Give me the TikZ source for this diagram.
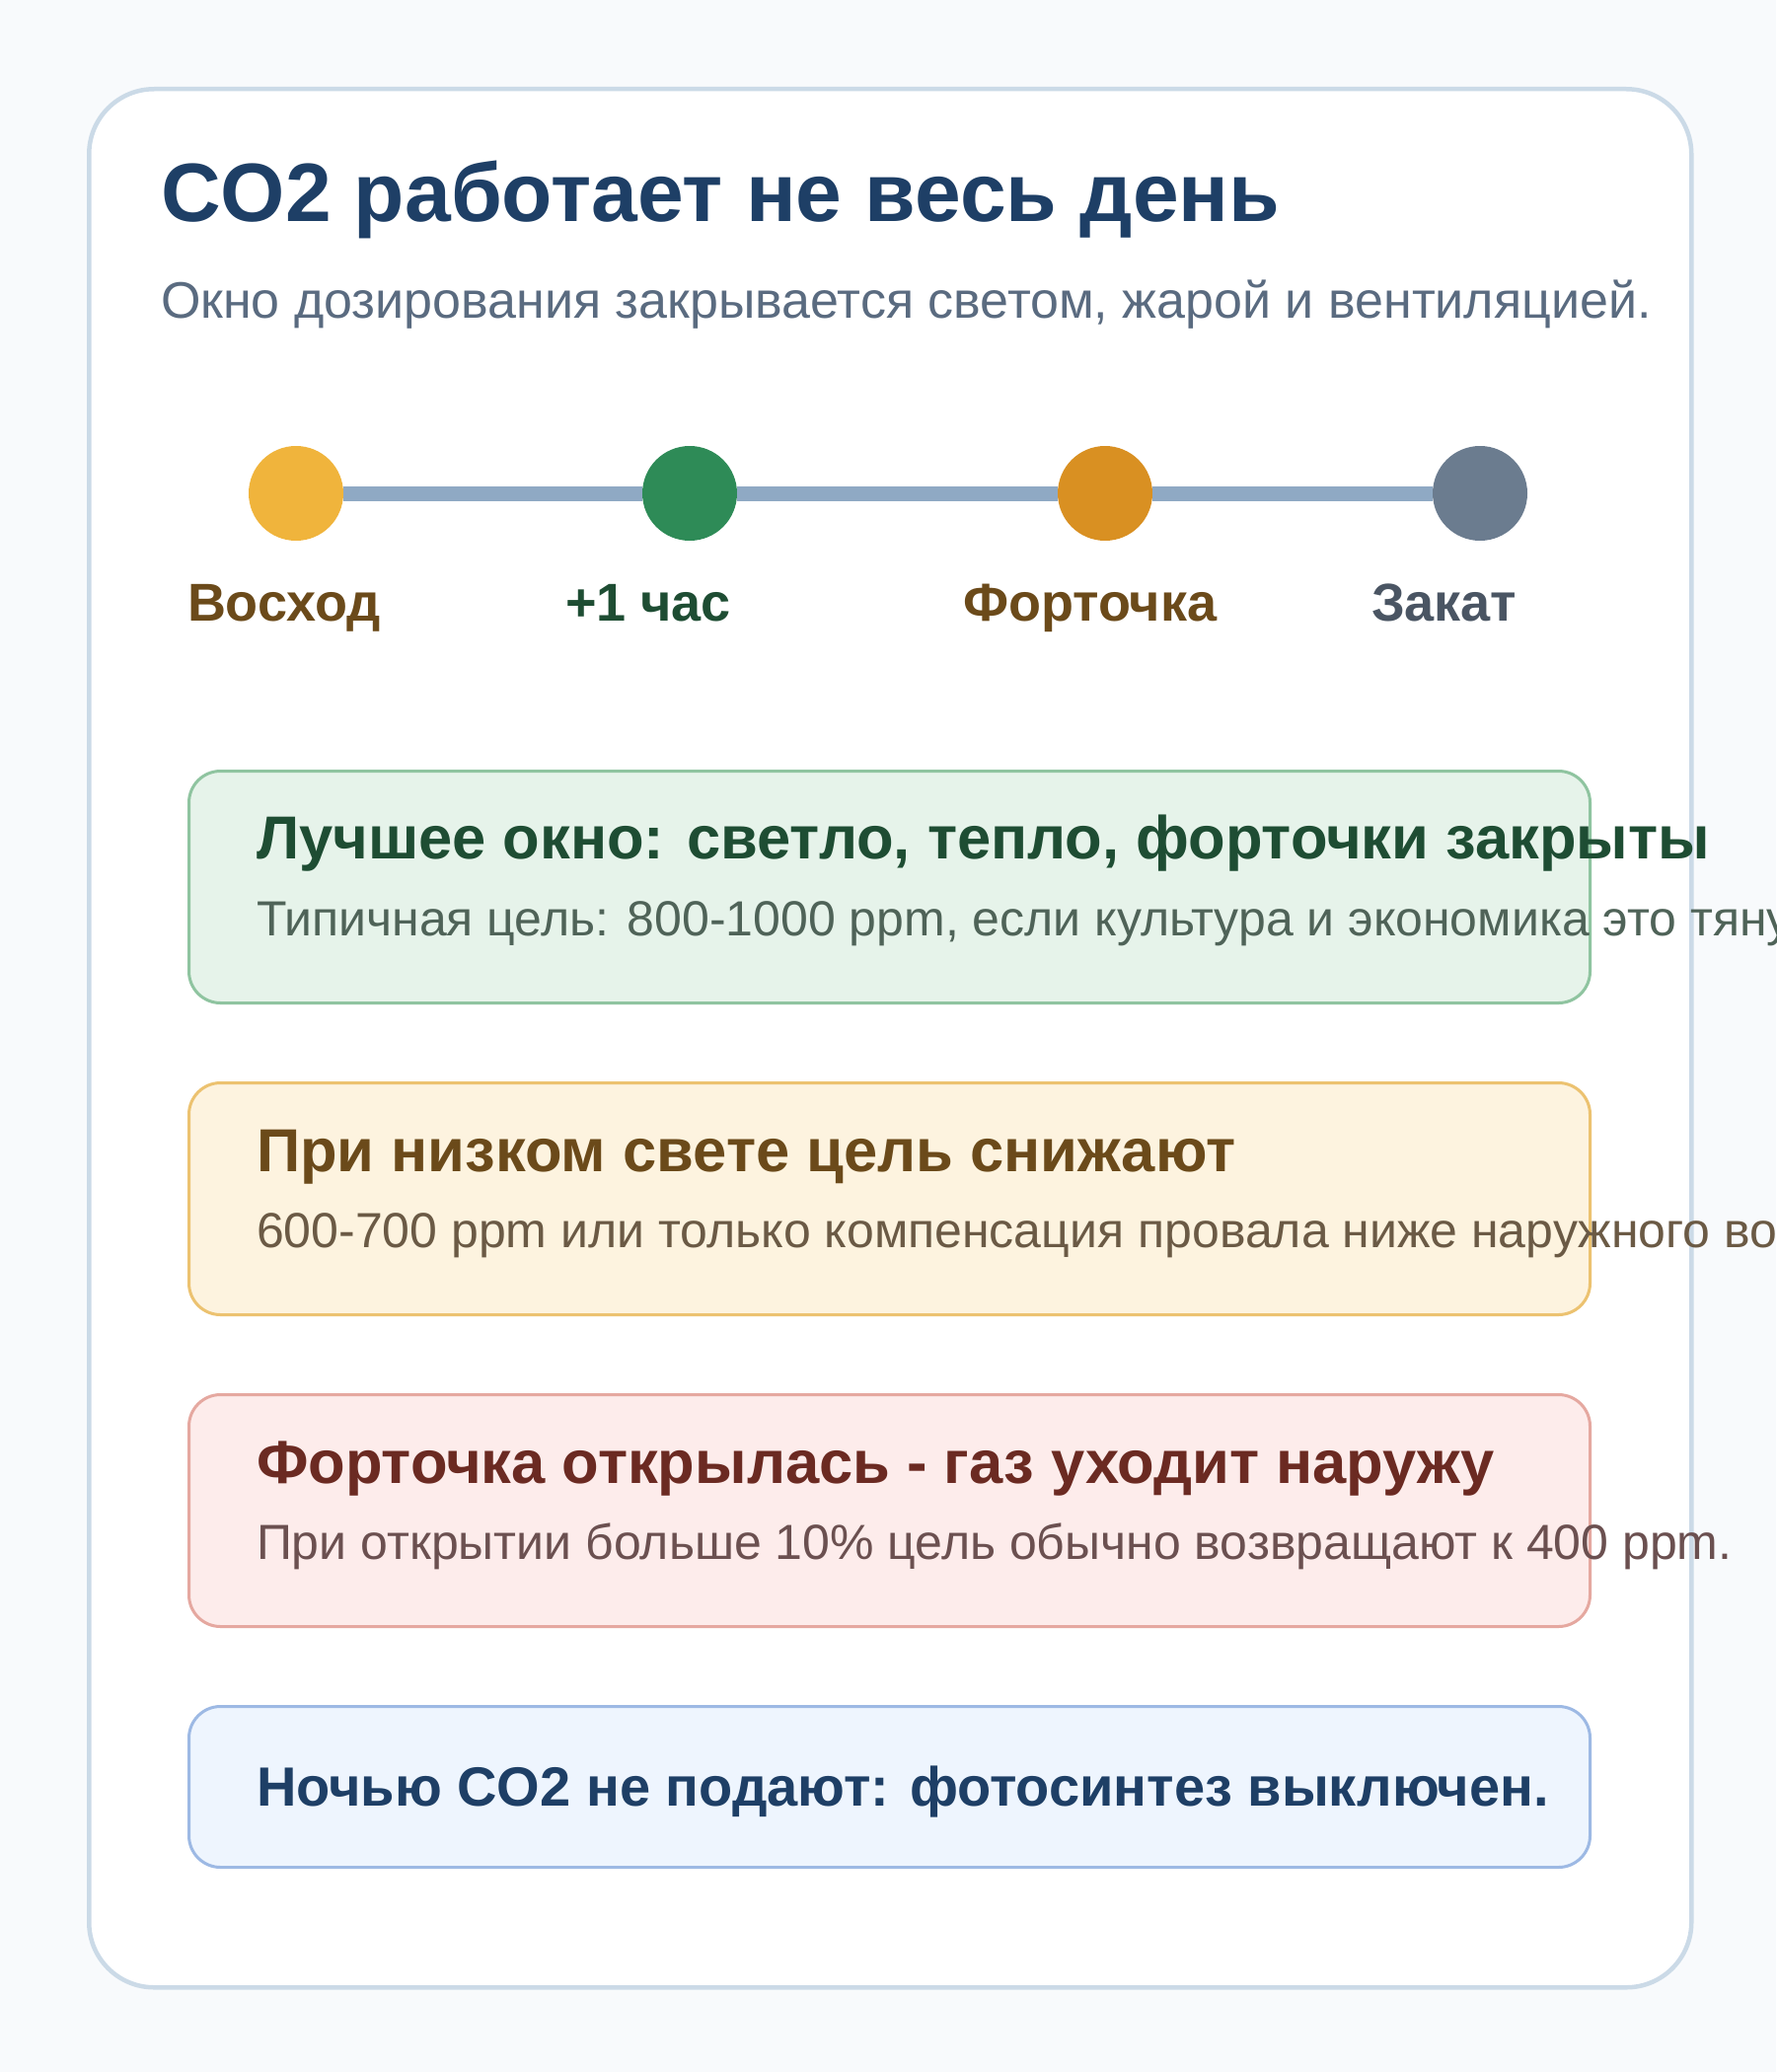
\documentclass[tikz,border=0pt]{standalone}
\usepackage{fontspec}
\setmainfont{Liberation Sans}
\definecolor{pagebg}{HTML}{F8FAFC}
\definecolor{cardline}{HTML}{CBDAE7}
\definecolor{titlec}{HTML}{1E3F66}
\definecolor{subc}{HTML}{5A6B80}
\definecolor{trackc}{HTML}{8FA9C4}
\definecolor{dotA}{HTML}{F0B43C}
\definecolor{dotB}{HTML}{2E8B57}
\definecolor{dotC}{HTML}{D99022}
\definecolor{dotD}{HTML}{6B7C8F}
\definecolor{brownc}{HTML}{6B4A1A}
\definecolor{greenc}{HTML}{1E4D33}
\definecolor{slatec}{HTML}{4A5563}
\definecolor{gfill}{HTML}{E6F3EA}
\definecolor{gline}{HTML}{8FC4A0}
\definecolor{gsub}{HTML}{4F6358}
\definecolor{yfill}{HTML}{FDF3DF}
\definecolor{yline}{HTML}{ECC270}
\definecolor{ysub}{HTML}{6B5A45}
\definecolor{rfill}{HTML}{FDECEB}
\definecolor{rline}{HTML}{E5A8A0}
\definecolor{rtitle}{HTML}{6B2A22}
\definecolor{rsub}{HTML}{6B5050}
\definecolor{bfill}{HTML}{EEF5FE}
\definecolor{bline}{HTML}{9DB9E4}
\begin{document}
\begin{tikzpicture}[x=1pt,y=-1pt,
  txt/.style={anchor=base west,inner sep=0pt,outer sep=0pt},
  dot/.style={circle,minimum size=96pt,inner sep=0pt},
  lbl/.style={txt,font=\fontsize{54}{64}\selectfont\bfseries},
  panel/.style={draw,line width=3pt,rounded corners=32pt,anchor=north west,minimum width=1420pt,inner sep=0pt},
  ptitle/.style={txt,font=\fontsize{61.5}{72}\selectfont\bfseries},
  psub/.style={txt,font=\fontsize{50}{60}\selectfont}]
\useasboundingbox (0,0) rectangle (1800,2100);
\fill[pagebg] (0,0) rectangle (1800,2100);
\node[draw=cardline,fill=white,line width=4.5pt,rounded corners=66pt,anchor=north west,minimum width=1624pt,minimum height=1924pt,inner sep=0pt] (card) at (88,88) {};
\node[txt,text=titlec,font=\fontsize{84}{100}\selectfont\bfseries] (title) at (163,225) {CO2 работает не весь день};
\node[txt,text=subc,font=\fontsize{52}{62}\selectfont] (subtitle) at (163,322) {Окно дозирования закрывается светом, жарой и вентиляцией.};
% timeline
\node[dot,fill=dotA] (c1) at (300,500) {};
\node[dot,fill=dotB] (c2) at (699,500) {};
\node[dot,fill=dotC] (c3) at (1120,500) {};
\node[dot,fill=dotD] (c4) at (1500,500) {};
\draw[trackc,line width=15pt] (c1) -- (c2);
\draw[trackc,line width=15pt] (c2) -- (c3);
\draw[trackc,line width=15pt] (c3) -- (c4);
\node[lbl,text=brownc] (l1) at (190,629) {Восход};
\node[lbl,text=greenc] (l2) at (573,629) {+1 час};
\node[lbl,text=brownc] (l3) at (976,629) {Форточка};
\node[lbl,text=slatec] (l4) at (1390,629) {Закат};
% panels
\node[panel,draw=gline,fill=gfill,minimum height=235pt] (p1) at (190,780) {};
\node[ptitle,text=greenc] (p1t) at (260,870) {Лучшее окно: светло, тепло, форточки закрыты};
\node[psub,text=gsub] (p1s) at (260,948) {Типичная цель: 800-1000 ppm, если культура и экономика это тянут.};
\node[panel,draw=yline,fill=yfill,minimum height=235pt] (p2) at (190,1096) {};
\node[ptitle,text=brownc] (p2t) at (260,1187) {При низком свете цель снижают};
\node[psub,text=ysub] (p2s) at (260,1264) {600-700 ppm или только компенсация провала ниже наружного воздуха.};
\node[panel,draw=rline,fill=rfill,minimum height=235pt] (p3) at (190,1412) {};
\node[ptitle,text=rtitle] (p3t) at (260,1503) {Форточка открылась - газ уходит наружу};
\node[psub,text=rsub] (p3s) at (260,1580) {При открытии больше 10\% цель обычно возвращают к 400 ppm.};
\node[panel,draw=bline,fill=bfill,minimum height=163pt] (p4) at (190,1728) {};
\node[txt,text=titlec,font=\fontsize{56}{66}\selectfont\bfseries] (p4t) at (260,1830) {Ночью CO2 не подают: фотосинтез выключен.};
\end{tikzpicture}
\end{document}
